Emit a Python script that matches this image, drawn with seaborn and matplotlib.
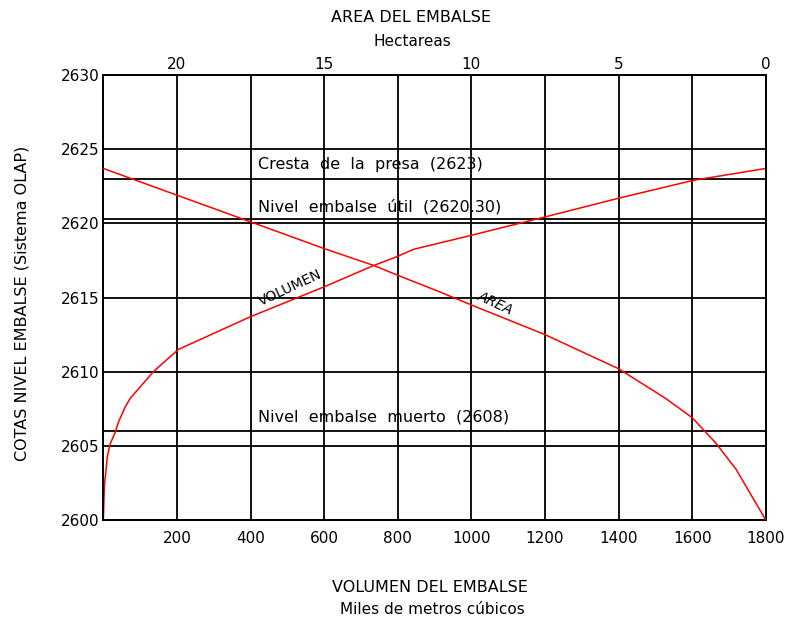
import matplotlib
matplotlib.use("Agg")
import matplotlib.pyplot as plt
import seaborn as sns
import pandas as pd

# ---- data ----
vol_x = [0, 3, 7, 11, 18, 32, 41, 59, 73, 136, 181, 204, 399, 598, 734, 797, 843,
         1001, 1203, 1401, 1603, 1800]
vol_elev = [2600, 2602.4, 2603.3, 2604.3, 2605.1, 2605.9, 2606.6, 2607.6, 2608.2,
            2610.0, 2611.0, 2611.5, 2613.7, 2615.7, 2617.15, 2617.75, 2618.25,
            2619.2, 2620.45, 2621.7, 2622.9, 2623.7]

area_x = [22.5, 20.0, 17.5, 15.0, 13.3, 12.5, 11.1, 10.0, 7.5, 5.0, 3.4, 2.5, 1.7, 1.0, 0.0]
area_elev = [2623.7, 2621.9, 2620.1, 2618.3, 2617.15, 2616.5, 2615.4, 2614.5, 2612.5,
             2610.2, 2608.2, 2606.9, 2605.2, 2603.4, 2600.0]

vol_ticks = [200, 400, 600, 800, 1000, 1200, 1400, 1600, 1800]
area_ticks = [20, 15, 10, 5, 0]
elev_ticks = [2600, 2605, 2610, 2615, 2620, 2625, 2630]

ref_levels = [2623, 2620.3, 2606]
ref_labels = ["Cresta  de  la  presa  (2623)", "Nivel  embalse  útil  (2620.30)",
              "Nivel  embalse  muerto  (2608)"]
ref_label_y = [2623.95, 2621.1, 2606.95]

df_vol = pd.DataFrame({"vol": vol_x, "elev": vol_elev})
df_area = pd.DataFrame({"area": area_x, "elev": area_elev})

sns.set_theme(style="white")
plt.rcParams['font.family'] = ['DejaVu Sans']
plt.rcParams['text.color'] = 'black'

fig = plt.figure(figsize=(7.95, 6.21), dpi=100)
ax = fig.add_axes([0.13, 0.1626, 0.8332, 0.7166])

ax.set_xlim(0, 1800)
ax.set_ylim(2600, 2630)
ax.set_xticks(vol_ticks)
ax.set_yticks(elev_ticks)
ax.grid(True, color="black", lw=1.3)
ax.set_axisbelow(True)
for lev in ref_levels:
    ax.axhline(lev, color="black", lw=1.3, zorder=1)
for txt, yy in zip(ref_labels, ref_label_y):
    ax.text(420, yy, txt, fontsize=11.5, ha="left", va="center", color="black")

sns.lineplot(data=df_vol, x="vol", y="elev", ax=ax, color="red", lw=1.1,
             sort=False, estimator=None, zorder=3)
ax.set_xlim(0, 1800)
ax.set_ylim(2600, 2630)
ax.set_xlabel("")
ax.set_ylabel("")
ax.tick_params(axis="x", length=0, pad=8, labelsize=11, colors="black")
ax.tick_params(axis="y", length=0, pad=3, labelsize=11, colors="black")

ax.text(507, 2615.64, "VOLUMEN", fontsize=10, rotation=25, ha="center", va="center",
        color="black")
ax.text(1064, 2614.63, "AREA", fontsize=10, rotation=-25, ha="center", va="center",
        style="italic", color="black")

ax2 = ax.twiny()
sns.lineplot(data=df_area, x="area", y="elev", ax=ax2, color="red", lw=1.1,
             sort=False, estimator=None, zorder=3)
ax2.set_xlim(22.5, 0)
ax2.set_ylim(2600, 2630)
ax2.set_xticks(area_ticks)
ax2.set_xlabel("")
ax2.set_ylabel("")
ax2.grid(False)
ax2.tick_params(axis="x", length=0, pad=2, labelsize=11, colors="black")

for a in (ax, ax2):
    for s in a.spines.values():
        s.set_color("black")
        s.set_linewidth(1.3)

fig.text(411 / 795, 1 - 18 / 621, "AREA DEL EMBALSE", fontsize=11.5, ha="center",
         va="center", color="black")
fig.text(412 / 795, 1 - 42 / 621, "Hectareas", fontsize=11, ha="center", va="center",
         color="black")
fig.text(430 / 795, 1 - 588 / 621, "VOLUMEN DEL EMBALSE", fontsize=11.5, ha="center",
         va="center", color="black")
fig.text(432 / 795, 1 - 610 / 621, "Miles de metros cúbicos", fontsize=11, ha="center",
         va="center", color="black")
fig.text(22 / 795, 1 - 303 / 621, "COTAS NIVEL EMBALSE (Sistema OLAP)", fontsize=11.5,
         rotation=90, ha="center", va="center", color="black")

fig.savefig("out.png", dpi=100, facecolor="white")
